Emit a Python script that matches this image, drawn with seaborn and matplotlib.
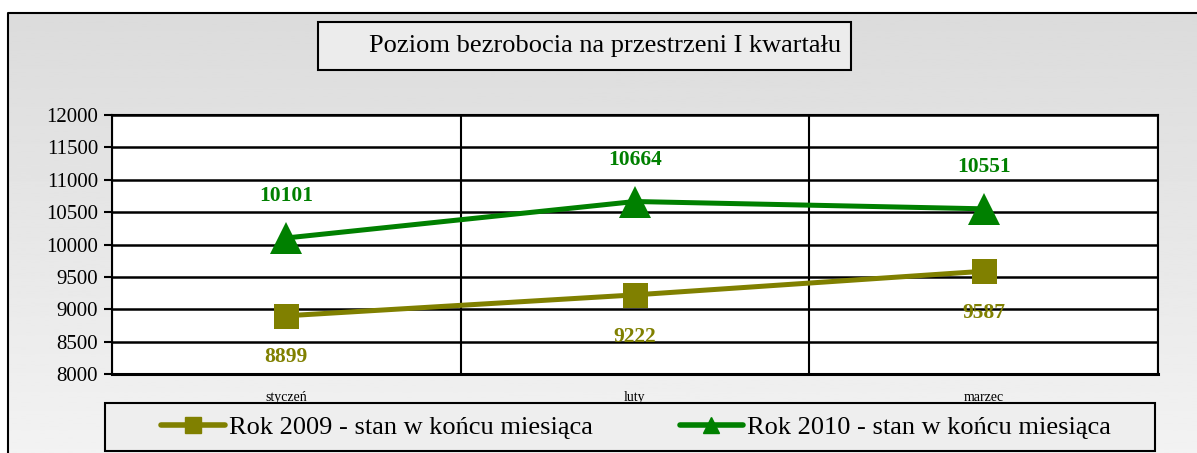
import numpy as np
import pandas as pd
import matplotlib.pyplot as plt
import seaborn as sns
from matplotlib.patches import Rectangle

months = ['styczeń', 'luty', 'marzec']
series_names = ['Rok 2009 - stan w końcu miesiąca', 'Rok 2010 - stan w końcu miesiąca']
values_2009 = [8899, 9222, 9587]
values_2010 = [10101, 10664, 10551]
yticks = [8000, 8500, 9000, 9500, 10000, 10500, 11000, 11500, 12000]

df = pd.DataFrame({
    'miesiac': months * 2,
    'x': list(range(len(months))) * 2,
    'wartosc': values_2009 + values_2010,
    'seria': [series_names[0]] * 3 + [series_names[1]] * 3,
})

sns.set_style('white')
plt.rcParams['font.family'] = ['Liberation Serif', 'DejaVu Serif']
plt.rcParams['text.color'] = 'black'
plt.rcParams['xtick.color'] = 'black'
plt.rcParams['ytick.color'] = 'black'

colors = {series_names[0]: '#808000', series_names[1]: '#008000'}
W, H = 1197, 453

fig = plt.figure(figsize=(W / 100, H / 100), dpi=100)

# tlo z delikatnym gradientem
bg = fig.add_axes([0, 0, 1, 1], zorder=-10)
grad = np.linspace(0.86, 0.95, 256).reshape(-1, 1)
bg.add_patch(Rectangle((0, 0), 1, 1, facecolor='white', edgecolor='none', zorder=-1))
bg.imshow(grad, aspect='auto', cmap='gray', vmin=0, vmax=1,
          extent=[8 / W, 1, 0, 1 - 13 / H], zorder=0)
bg.plot([8 / W, 8 / W, 1], [0, 1 - 13 / H, 1 - 13 / H], color='black', lw=1.5, zorder=1)
# ramka tytulu i legendy
bg.add_patch(Rectangle((318 / W, 1 - 70 / H), 533 / W, 48 / H, facecolor='#ececec',
                       edgecolor='black', lw=1.5, zorder=2))
bg.add_patch(Rectangle((105 / W, 2 / H), 1050 / W, 48 / H, facecolor='#eeeeee',
                       edgecolor='black', lw=1.5, zorder=2))
bg.set_xlim(0, 1)
bg.set_ylim(0, 1)
bg.axis('off')

ax = fig.add_axes([112 / W, 1 - 374 / H, (1158 - 112) / W, (374 - 115) / H])
ax.set_facecolor('white')

sns.lineplot(data=df, x='x', y='wartosc', hue='seria', style='seria',
             markers={series_names[0]: 's', series_names[1]: '^'}, dashes=False,
             palette=colors, linewidth=3.6, markeredgewidth=0, ax=ax, legend=False)
for line, ms in zip(ax.lines, [18, 23]):
    line.set_markersize(ms)

for i, v in enumerate(values_2009):
    ax.annotate(str(v), (i, v), xytext=(0, -30), textcoords='offset points',
                ha='center', va='center', fontsize=15.5, fontweight='bold', color='#808000')
for i, v in enumerate(values_2010):
    ax.annotate(str(v), (i, v), xytext=(0, 30), textcoords='offset points',
                ha='center', va='center', fontsize=15.5, fontweight='bold', color='#008000')

ax.set_xlim(-0.5, 2.5)
ax.set_ylim(8000, 12000)
ax.set_yticks(yticks)
ax.set_yticklabels([str(t) for t in yticks], fontsize=15)
ax.set_xticks(range(len(months)))
ax.set_xticklabels(months, fontsize=10)
ax.set_xticks([-0.5, 0.5, 1.5, 2.5], minor=True)
ax.tick_params(axis='x', which='major', length=0, pad=12)
ax.tick_params(axis='x', which='minor', length=5, width=1.5, direction='out', color='black')
ax.tick_params(axis='y', length=6, width=1.5, direction='out', color='black', left=True, pad=4)
ax.grid(axis='y', color='black', linewidth=1.8)
ax.grid(axis='x', which='minor', color='black', linewidth=1.5)
for s in ax.spines.values():
    s.set_color('black')
    s.set_linewidth(1.5)
ax.spines['bottom'].set_linewidth(2.2)
ax.set_xlabel('')
ax.set_ylabel('')

fig.text(605 / W, 1 - 46 / H, 'Poziom bezrobocia na przestrzeni I kwartału',
         ha='center', va='center', fontsize=19, color='black')

handles = [plt.Line2D([], [], color=colors[n], lw=4, marker=m, markersize=11)
           for n, m in zip(series_names, ['s', '^'])]
leg = fig.legend(handles, series_names, ncol=2, loc='center',
                 bbox_to_anchor=(636 / W, 26 / H), fontsize=19, frameon=False,
                 handlelength=2.4, handletextpad=0.15, columnspacing=3.3)
for t in leg.get_texts():
    t.set_color('black')

fig.savefig('out.png', dpi=100)
